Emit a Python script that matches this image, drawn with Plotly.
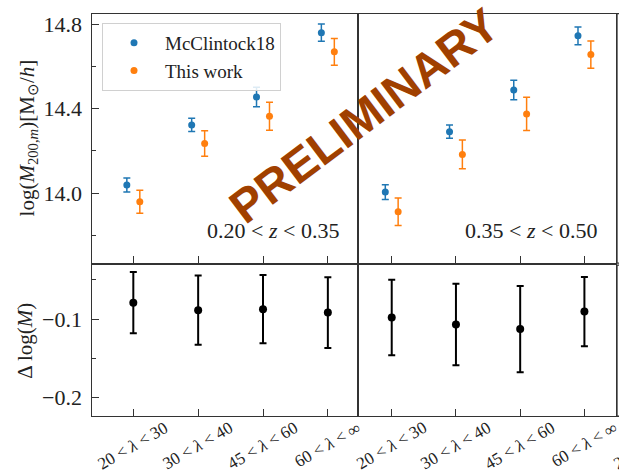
import plotly.graph_objects as go

# ---------------- data ----------------
categories = ["20 &lt; <i>λ</i> &lt; 30", "30 &lt; <i>λ</i> &lt; 40",
              "45 &lt; <i>λ</i> &lt; 60", "60 &lt; <i>λ</i> &lt; ∞"]
z_bins = ["0.20 &lt; <i>z</i> &lt; 0.35", "0.35 &lt; <i>z</i> &lt; 0.50"]

# McClintock18 log masses and errors (per redshift bin)
mc18_lo = [14.038, 14.323, 14.455, 14.760]
mc18_lo_err = [0.033, 0.031, 0.046, 0.041]
mc18_hi = [14.005, 14.291, 14.488, 14.745]
mc18_hi_err = [0.035, 0.031, 0.046, 0.042]

# This work
tw_lo = [13.959, 14.235, 14.364, 14.669]
tw_lo_err = [0.055, 0.060, 0.066, 0.063]
tw_hi = [13.912, 14.183, 14.375, 14.656]
tw_hi_err = [0.065, 0.068, 0.079, 0.065]

# Delta log(M)
dlog_lo = [-0.079, -0.0886, -0.0873, -0.0917]
dlog_lo_err = [0.039, 0.044, 0.0435, 0.045]
dlog_hi = [-0.098, -0.1068, -0.1127, -0.0904]
dlog_hi_err = [0.048, 0.052, 0.055, 0.044]

# ---------------- style ----------------
BLUE = "#1f77b4"
ORANGE = "#ff7f0e"
AX = "#333333"
FONT = "Liberation Serif"
W, H = 619, 473
offset = 0.1
idx = list(range(len(categories)))

def px_x(p):
    return p / W

def px_y(p):
    return 1 - p / H

xL = [px_x(91.5), px_x(358)]
xR = [px_x(358), px_x(615.5)]
yT = [px_y(262.3), px_y(11.7)]
yB = [px_y(416), px_y(264.3)]

fig = go.Figure()

def err_trace(x, y, e, color, name, xa, ya, show, size=7, thick=1.5, width=3.5):
    fig.add_trace(go.Scatter(
        x=x, y=y, mode="markers", name=name, showlegend=show,
        marker=dict(color=color, size=size),
        error_y=dict(type="data", array=e, color=color, thickness=thick, width=width),
        xaxis=xa, yaxis=ya, legendgroup=name,
    ))

err_trace([i - offset for i in idx], mc18_lo, mc18_lo_err, BLUE, "McClintock18", "x", "y", True)
err_trace([i + offset for i in idx], tw_lo, tw_lo_err, ORANGE, "This work", "x", "y", True)
err_trace([i - offset for i in idx], mc18_hi, mc18_hi_err, BLUE, "McClintock18", "x2", "y2", False)
err_trace([i + offset for i in idx], tw_hi, tw_hi_err, ORANGE, "This work", "x2", "y2", False)
err_trace(idx, dlog_lo, dlog_lo_err, "black", "dlo", "x3", "y3", False, size=8, thick=2, width=3.5)
err_trace(idx, dlog_hi, dlog_hi_err, "black", "dhi", "x4", "y4", False, size=8, thick=2, width=3.5)

base_axis = dict(showline=True, mirror=True, linecolor=AX, linewidth=1.3,
                 showgrid=False, zeroline=False, tickcolor=AX, tickwidth=1.2,
                 tickfont=dict(family=FONT, size=22, color="#222"))

xcommon = dict(base_axis, tickvals=idx, ticks="inside", ticklen=7, showticklabels=False)

layout = dict(
    width=W, height=H,
    margin=dict(l=0, r=0, t=0, b=0),
    plot_bgcolor="white", paper_bgcolor="white",
    showlegend=True,
    xaxis=dict(xcommon, domain=xL, range=[-0.645, 3.465], anchor="y"),
    xaxis2=dict(xcommon, domain=xR, range=[-0.525, 3.484], anchor="y2"),
    xaxis3=dict(xcommon, domain=xL, range=[-0.645, 3.465], anchor="y3"),
    xaxis4=dict(xcommon, domain=xR, range=[-0.525, 3.484], anchor="y4"),
    yaxis=dict(base_axis, domain=yT, range=[13.668, 14.85], anchor="x",
               ticks="inside", ticklen=7, tick0=14.0, dtick=0.4, tickformat=".1f",
               ticklabelstandoff=4,
               minor=dict(ticks="inside", ticklen=4, tick0=13.8, dtick=0.2,
                          tickcolor=AX, tickwidth=1)),
    yaxis2=dict(base_axis, domain=yT, range=[13.668, 14.85], anchor="x2",
                ticks="", showticklabels=False),
    yaxis3=dict(base_axis, domain=yB, range=[-0.2237, -0.0313], anchor="x3",
                ticks="inside", ticklen=7, tick0=-0.2, dtick=0.1, tickformat=".1f",
                ticklabelstandoff=4,
                minor=dict(ticks="inside", ticklen=4, tick0=-0.2, dtick=0.05,
                           tickcolor=AX, tickwidth=1)),
    yaxis4=dict(base_axis, domain=yB, range=[-0.2237, -0.0313], anchor="x4",
                ticks="", showticklabels=False),
    legend=dict(x=px_x(102), y=px_y(21), xanchor="left", yanchor="top",
                bgcolor="rgba(255,255,255,0.85)", bordercolor="#d0d0d0", borderwidth=1,
                font=dict(family=FONT, size=19, color="#222"),
                itemwidth=52, tracegroupgap=0),
)
fig.update_layout(**layout)

ann = []
LBL = dict(family=FONT, size=17, color="#222")
# rotated category labels below the bottom panels
for xa in ["x3", "x4"]:
    for i, c in enumerate(categories):
        ann.append(dict(x=i, xref=xa, y=px_y(415), yref="paper", text=c,
                        textangle=-30, showarrow=False, xanchor="center", yanchor="top",
                        font=LBL))
# cropped label of the next (hidden) panel
ann.append(dict(x=px_x(649), xref="paper", y=px_y(415), yref="paper", text=categories[0],
                textangle=-30, showarrow=False, xanchor="center", yanchor="top",
                font=LBL))
# redshift labels
for xa, ya, t in [("x domain", "y domain", z_bins[0]), ("x2 domain", "y2 domain", z_bins[1])]:
    ann.append(dict(x=0.935, xref=xa, y=0.133, yref=ya, text=t, showarrow=False,
                    xanchor="right", yanchor="middle",
                    font=dict(family=FONT, size=22, color="#222")))
# y titles
ann.append(dict(x=px_x(28), xref="paper", y=0.5, yref="y domain",
                text="log(<i>M</i><sub>200,<i>m</i></sub>)[M<sub>⊙</sub>/<i>h</i>]",
                textangle=-90, showarrow=False, xanchor="center", yanchor="middle",
                font=dict(family=FONT, size=21, color="#222")))
ann.append(dict(x=px_x(25), xref="paper", y=0.5, yref="y3 domain",
                text="Δ log(<i>M</i>)",
                textangle=-90, showarrow=False, xanchor="center", yanchor="middle",
                font=dict(family=FONT, size=21, color="#222")))
# watermark
ann.append(dict(x=px_x(364), xref="paper", y=px_y(114), yref="paper", text="<b>PRELIMINARY</b>",
                textangle=-37, showarrow=False, xanchor="center", yanchor="middle",
                font=dict(family="Liberation Sans", size=47, color="#A04000")))
fig.update_layout(annotations=ann)

# borders of the cropped neighbouring panels
for y0, y1 in [(yT[0], yT[1]), (yB[0], yB[1])]:
    fig.add_shape(type="rect", xref="paper", yref="paper",
                  x0=px_x(617), x1=1.05, y0=y0, y1=y1,
                  line=dict(color=AX, width=1.3))

fig.write_html("out.html")
